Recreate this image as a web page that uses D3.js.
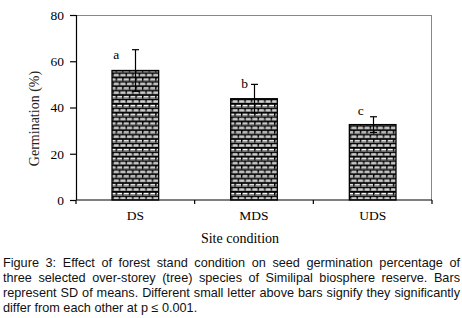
<!DOCTYPE html>
<html>
<head>
<meta charset="utf-8">
<script src="https://cdn.jsdelivr.net/npm/d3@7"></script>
<style>
  html, body { margin: 0; padding: 0; background: #fff; }
  svg { display: block; }
</style>
</head>
<body>
<div id="chart"></div>
<script>
/* Seed germination by site condition: bars with SD whiskers + letters */
var categories = ['DS', 'MDS', 'UDS'];
var means = [56, 43.8, 32.6];
var sds = [9.0, 6.2, 3.4];
var letters = ['a', 'b', 'c'];
var letterAt = [61.0, 48.4, 36.8];
var yTicks = [0, 20, 40, 60, 80];
var xTitle = 'Site condition';
var yTitle = 'Germination (%)';
var captionLines = [
  'Figure 3: Effect of forest stand condition on seed germination percentage of',
  'three selected over-storey (tree) species of Similipal biosphere reserve. Bars',
  'represent SD of means. Different small letter above bars signify they significantly',
  'differ from each other at p \u2264 0.001.'
];

(function () {
  'use strict';
  var W = 462, H = 318;
  var m = { top: 15, left: 76 };
  var iw = 356, ih = 185;
  var serif = '"Liberation Serif", "Times New Roman", serif';
  var sans = '"Liberation Sans", Arial, sans-serif';

  var svg = d3.select('#chart').append('svg')
    .attr('width', W).attr('height', H);

  /* brick hatch */
  var pat = svg.append('defs').append('pattern')
    .attr('id', 'brick').attr('patternUnits', 'userSpaceOnUse')
    .attr('width', 6.6).attr('height', 8.8);
  pat.append('rect').attr('width', 6.6).attr('height', 8.8).attr('fill', '#fff');
  pat.append('rect').attr('x', 0).attr('y', 0).attr('width', 6.6).attr('height', 1.8).attr('fill', '#000');
  pat.append('rect').attr('x', 0).attr('y', 4.4).attr('width', 6.6).attr('height', 1.8).attr('fill', '#000');
  pat.append('rect').attr('x', 0).attr('y', 1).attr('width', 1.5).attr('height', 3.4).attr('fill', '#000');
  pat.append('rect').attr('x', 3.3).attr('y', 5.4).attr('width', 1.5).attr('height', 3.4).attr('fill', '#000');
  pat.append('rect').attr('x', 1.5).attr('y', 3.1).attr('width', 5.1).attr('height', 0.9).attr('fill', '#777');
  pat.append('rect').attr('x', 0).attr('y', 7.5).attr('width', 6.6).attr('height', 0.9).attr('fill', '#777');

  var g = svg.append('g').attr('transform', 'translate(' + m.left + ',' + m.top + ')');

  var x = d3.scaleBand().domain(categories).range([0, iw]).padding(0);
  var y = d3.scaleLinear().domain([0, 80]).range([ih, 0]);
  var barW = x.bandwidth() * 0.393;

  /* frame: gray top/right */
  g.append('line').attr('x1', 0).attr('x2', iw).attr('y1', 0.5).attr('y2', 0.5)
    .attr('stroke', '#888').attr('stroke-width', 1);
  g.append('line').attr('x1', iw - 0.5).attr('x2', iw - 0.5).attr('y1', 0).attr('y2', ih)
    .attr('stroke', '#888').attr('stroke-width', 1);

  /* bars */
  g.selectAll('rect.bar').data(categories).enter().append('rect')
    .attr('class', 'bar')
    .attr('x', function (d) { return x(d) + x.bandwidth() / 2 - barW / 2; })
    .attr('y', function (d, i) { return y(means[i]); })
    .attr('width', barW)
    .attr('height', function (d, i) { return ih - y(means[i]); })
    .attr('fill', 'url(#brick)')
    .attr('stroke', '#000').attr('stroke-width', 1.3);

  /* SD whiskers */
  var cap = 3.5;
  categories.forEach(function (c, i) {
    var cx = Math.round(x(c) + x.bandwidth() / 2) + 0.5;
    var hi = y(means[i] + sds[i]), lo = y(means[i] - sds[i]);
    var eg = g.append('g').attr('stroke', '#000').attr('stroke-width', 1.2);
    eg.append('line').attr('x1', cx).attr('x2', cx).attr('y1', hi).attr('y2', lo);
    eg.append('line').attr('x1', cx - cap).attr('x2', cx + cap).attr('y1', hi).attr('y2', hi);
    eg.append('line').attr('x1', cx - cap).attr('x2', cx + cap).attr('y1', lo).attr('y2', lo);
  });

  /* significance letters */
  var letterDx = [-16, -6, -9];
  g.selectAll('text.sig').data(letters).enter().append('text')
    .attr('class', 'sig')
    .attr('x', function (d, i) { return x(categories[i]) + x.bandwidth() / 2 + letterDx[i]; })
    .attr('y', function (d, i) { return y(letterAt[i]); })
    .attr('text-anchor', 'end')
    .style('font-family', serif).style('font-size', '13.5px').style('fill', '#000')
    .text(function (d) { return d; });

  /* y axis */
  var ya = g.append('g').call(d3.axisLeft(y).tickValues(yTicks).tickSize(6).tickPadding(6));
  ya.select('.domain').attr('stroke', '#000').attr('stroke-width', 1.2).attr('d', 'M-6,0.5H0.5V' + ih);
  ya.selectAll('.tick line').attr('stroke', '#000').attr('stroke-width', 1.2);
  ya.selectAll('.tick text').style('font-family', serif).style('font-size', '13.5px').style('fill', '#000');

  /* x axis: ticks at band edges */
  var xa = g.append('g').attr('transform', 'translate(0,' + ih + ')');
  xa.append('line').attr('x1', 0).attr('x2', iw).attr('y1', 0).attr('y2', 0)
    .attr('stroke', '#000').attr('stroke-width', 1.2);
  var edges = categories.map(function (c) { return x(c); }).concat([iw]);
  xa.selectAll('line.edge').data(edges).enter().append('line')
    .attr('class', 'edge')
    .attr('x1', function (d) { return d; }).attr('x2', function (d) { return d; })
    .attr('y1', 0).attr('y2', 4)
    .attr('stroke', '#000').attr('stroke-width', 1.2);
  xa.selectAll('text').data(categories).enter().append('text')
    .attr('x', function (d) { return x(d) + x.bandwidth() / 2; })
    .attr('y', 19.5)
    .attr('text-anchor', 'middle')
    .style('font-family', serif).style('font-size', '13.5px').style('fill', '#000')
    .text(function (d) { return d; });

  /* axis titles */
  svg.append('text')
    .attr('x', 240).attr('y', 243)
    .attr('text-anchor', 'middle')
    .style('font-family', serif).style('font-size', '14px').style('fill', '#000')
    .text(xTitle);
  svg.append('text')
    .attr('transform', 'translate(39,' + (m.top + ih / 2 + 11) + ') rotate(-90)')
    .attr('text-anchor', 'middle')
    .style('font-family', serif).style('font-size', '14px').style('fill', '#222')
    .text(yTitle);

  /* caption, justified except last line */
  var capL = 3, capR = 460, base0 = 266.5, lead = 15;
  captionLines.forEach(function (line, li) {
    var words = line.split(' ');
    var t = svg.append('text')
      .attr('y', base0 + li * lead)
      .style('font-family', sans).style('font-size', '12.7px').style('fill', '#111');
    var spans = words.map(function (w) { return t.append('tspan').text(w); });
    var widths = spans.map(function (s) { return s.node().getComputedTextLength(); });
    var total = d3.sum(widths);
    var last = li === captionLines.length - 1;
    var gap = last ? 3.5 : (capR - capL - total) / (words.length - 1);
    var cx = capL;
    spans.forEach(function (s, k) {
      s.attr('x', cx);
      cx += widths[k] + gap;
    });
  });
})();
</script>
</body>
</html>
